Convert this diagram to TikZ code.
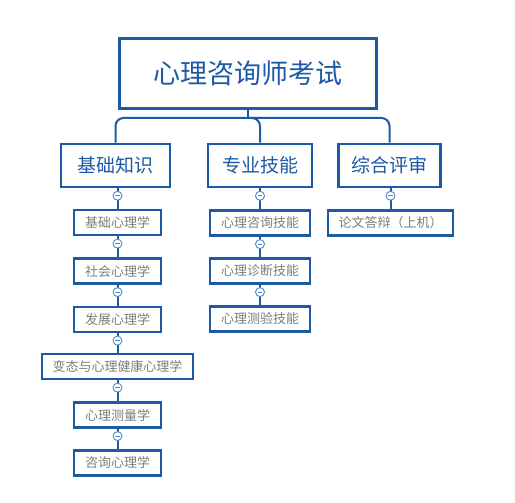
\documentclass[tikz,border=0pt]{standalone}
\usepackage{fontspec}
\setmainfont{Noto Sans CJK SC}
\usetikzlibrary{calc}
\definecolor{boxblue}{HTML}{1C5AA6}
\definecolor{togblue}{HTML}{4F88CC}
\definecolor{leafgray}{HTML}{7D7D7D}
\tikzset{
  rootbox/.style={draw=boxblue, line width=3pt, fill=white, text=boxblue, minimum width=257pt, minimum height=70pt, inner sep=0pt, font=\fontsize{27}{31}\selectfont},
  topicbox/.style={draw=boxblue, line width=2.5pt, fill=white, text=boxblue, minimum height=43pt, inner sep=0pt, font=\fontsize{19}{22}\selectfont},
  leafbox/.style={draw=boxblue, line width=2.2pt, fill=white, text=leafgray, minimum height=25pt, inner sep=0pt, font=\fontsize{13}{15}\selectfont},
  conn/.style={draw=boxblue, line width=2pt},
  tog/.style={circle, draw=togblue, line width=0.9pt, fill=white, minimum size=9pt, inner sep=0pt,
    path picture={\draw[togblue, line width=0.8pt] ([xshift=-2.4pt]path picture bounding box.center) -- ([xshift=2.4pt]path picture bounding box.center);}},
}
\begin{document}
\begin{tikzpicture}[x=1pt, y=-1pt]
\useasboundingbox[fill=white] (0,0) rectangle (515,503);
% root
\node[rootbox] (root) at (248,73.5) {心理咨询师考试};
% level 1
\node[topicbox, minimum width=109pt] (A) at (115.5,165.5) {基础知识};
\node[topicbox, minimum width=104pt] (B) at (260,165.5) {专业技能};
\node[topicbox, minimum width=102pt] (C) at (389.5,165.5) {综合评审};
% level 2 left
\node[leafbox, minimum width=87pt] (A1) at (117.5,222.5) {基础心理学};
\node[leafbox, minimum width=87pt] (A2) at (117.5,271) {社会心理学};
\node[leafbox, minimum width=87pt] (A3) at (117.5,319.5) {发展心理学};
\node[leafbox, minimum width=151pt] (A4) at (117.5,366.5) {变态与心理健康心理学};
\node[leafbox, minimum width=87pt] (A5) at (117.5,415) {心理测量学};
\node[leafbox, minimum width=87pt] (A6) at (117.5,463) {咨询心理学};
% level 2 middle
\node[leafbox, minimum width=100pt] (B1) at (260,223) {心理咨询技能};
\node[leafbox, minimum width=100pt] (B2) at (260,271) {心理诊断技能};
\node[leafbox, minimum width=100pt] (B3) at (260,319) {心理测验技能};
% level 2 right
\node[leafbox, minimum width=125pt] (C1) at (390.5,223) {论文答辩（上机）};
% root connectors
\coordinate (j) at (248,118);
\draw[conn] (root.south) -- (j);
\draw[conn, rounded corners=8pt] (j) -| (A.north);
\draw[conn, rounded corners=8pt] (j) -| (B.north);
\draw[conn, rounded corners=8pt] (j) -| (C.north);
% chains
\foreach \p/\c in {A/A1, A1/A2, A2/A3, A3/A4, A4/A5, A5/A6, B/B1, B1/B2, B2/B3, C/C1}{
  \draw[conn] (\p.south -| \c.north) -- (\c.north);
  \node[tog] (t\c) at ($(\p.south -| \c.north)+(0,7.5)$) {};
}
\end{tikzpicture}
\end{document}
